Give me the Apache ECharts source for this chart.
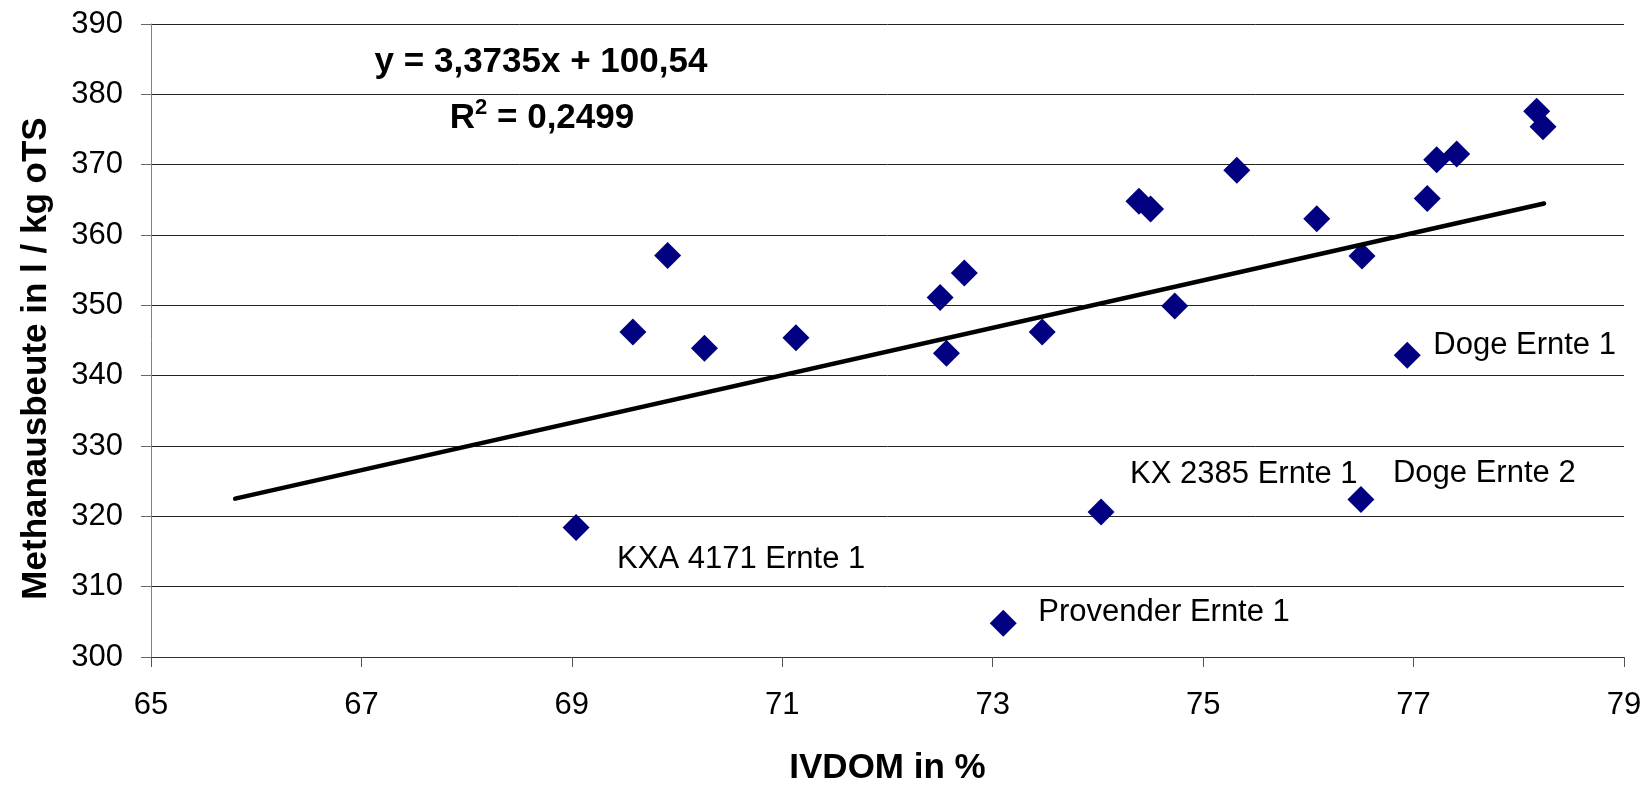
<!DOCTYPE html>
<html>
<head>
<meta charset="utf-8">
<title>Methanausbeute vs. IVDOM</title>
<script src="https://cdn.jsdelivr.net/npm/echarts@6/dist/echarts.min.js"></script>
<style>
  html, body { margin: 0; padding: 0; background: #fff; }
  #chart { width: 1650px; height: 791px; }
</style>
</head>
<body>
<div id="chart"></div>
<script>
// IVDOM (%) of each sample
const ivdom = [69.04, 69.58, 69.91, 70.26, 71.13, 72.50, 72.56, 72.73, 73.10, 73.47,
               74.03, 74.39, 74.50, 74.73, 75.32, 76.08, 76.50, 76.51, 76.94, 77.13,
               77.22, 77.41, 78.17, 78.23];
// Methane yield (l / kg oTS) of each sample
const methane = [318.4, 346.2, 357.1, 343.9, 345.4, 351.1, 343.2, 354.6, 304.8, 346.2,
                 320.6, 364.8, 363.7, 349.9, 369.2, 362.3, 322.4, 357.0, 342.9, 365.2,
                 370.7, 371.5, 377.6, 375.4];
// Sample names shown next to selected points ('' = no label)
const sampleNames = ['KXA 4171 Ernte 1', '', '', '', '', '', '', '', 'Provender Ernte 1', '',
                     'KX 2385 Ernte 1', '', '', '', '', '', 'Doge Ernte 2', '', 'Doge Ernte 1', '',
                     '', '', '', ''];

// Linear trend: y = slope * x + intercept, drawn across this x range
const trendSlope = 3.3735;
const trendIntercept = 100.54;
const trendRange = [65.8, 78.24];
const rSquared = '0,2499';

const xTicks = [65, 67, 69, 71, 73, 75, 77, 79];
const yTicks = [300, 310, 320, 330, 340, 350, 360, 370, 380, 390];

// Label placement for the named points (offset from marker centre, px)
const labelOffsets = {
  'KXA 4171 Ernte 1': [41, 32],
  'Provender Ernte 1': [35, -11],
  'KX 2385 Ernte 1': [29, -38],
  'Doge Ernte 2': [32, -26],
  'Doge Ernte 1': [26, -10]
};

const FONT = "'Liberation Sans', Arial, sans-serif";

const fmtComma = v => String(v).replace('.', ',');

const scatterData = ivdom.map((x, i) => {
  const item = { value: [x, methane[i]] };
  const name = sampleNames[i];
  if (name) {
    item.name = name;
    item.label = {
      show: true,
      position: 'inside',
      align: 'left',
      verticalAlign: 'middle',
      offset: labelOffsets[name],
      formatter: name,
      color: '#000',
      opacity: 1,
      fontFamily: FONT,
      fontSize: 31
    };
  }
  return item;
});

const trendData = trendRange.map(x => [x, trendSlope * x + trendIntercept]);

const chart = echarts.init(document.getElementById('chart'), null, { renderer: 'canvas' });

chart.setOption({
  backgroundColor: '#ffffff',
  animation: false,
  grid: { left: 151, right: 26, top: 24, bottom: 128 },
  xAxis: {
    type: 'value',
    min: xTicks[0],
    max: xTicks[xTicks.length - 1],
    interval: xTicks[1] - xTicks[0],
    name: 'IVDOM in %',
    nameLocation: 'middle',
    nameGap: 94,
    nameTextStyle: { fontFamily: FONT, fontSize: 35, fontWeight: 'bold', color: '#000' },
    axisLine: { show: true, lineStyle: { color: '#333', width: 1 } },
    axisTick: { show: true, inside: false, length: 10, lineStyle: { color: '#555' } },
    axisLabel: { fontFamily: FONT, fontSize: 31, color: '#000', margin: 33 },
    splitLine: { show: false }
  },
  yAxis: {
    type: 'value',
    min: yTicks[0],
    max: yTicks[yTicks.length - 1],
    interval: yTicks[1] - yTicks[0],
    name: 'Methanausbeute in l / kg oTS',
    nameLocation: 'middle',
    nameGap: 97,
    nameRotate: 90,
    nameTextStyle: { fontFamily: FONT, fontSize: 35, fontWeight: 'bold', color: '#000', padding: [0, 36, 0, 0] },
    axisLine: { show: true, lineStyle: { color: '#808080', width: 1 } },
    axisTick: { show: true, inside: false, length: 10, lineStyle: { color: '#666' } },
    axisLabel: { fontFamily: FONT, fontSize: 31, color: '#000', margin: 28 },
    splitLine: { show: true, lineStyle: { color: '#222', width: 1 } }
  },
  series: [
    {
      type: 'scatter',
      symbol: 'diamond',
      symbolSize: 27,
      itemStyle: { color: '#000080', opacity: 1 },
      data: scatterData,
      z: 3
    },
    {
      type: 'line',
      data: trendData,
      showSymbol: false,
      symbol: 'none',
      lineStyle: { color: '#000', width: 4.5, cap: 'round' },
      z: 4
    }
  ],
  graphic: [
    {
      type: 'text',
      x: 541,
      y: 62,
      style: {
        text: 'y = ' + fmtComma(trendSlope) + 'x + ' + fmtComma(trendIntercept),
        fontFamily: FONT,
        fontSize: 35,
        fontWeight: 'bold',
        fill: '#000',
        align: 'center',
        verticalAlign: 'middle'
      }
    },
    {
      type: 'text',
      x: 542,
      y: 118,
      style: {
        text: '{r|R}{sup|2}{r| = ' + rSquared + '}',
        align: 'center',
        verticalAlign: 'middle',
        rich: {
          r: { fontFamily: FONT, fontSize: 35, fontWeight: 'bold', fill: '#000' },
          sup: { fontFamily: FONT, fontSize: 22, fontWeight: 'bold', fill: '#000', padding: [0, 0, 20, 0] }
        }
      }
    }
  ]
});
</script>
</body>
</html>
